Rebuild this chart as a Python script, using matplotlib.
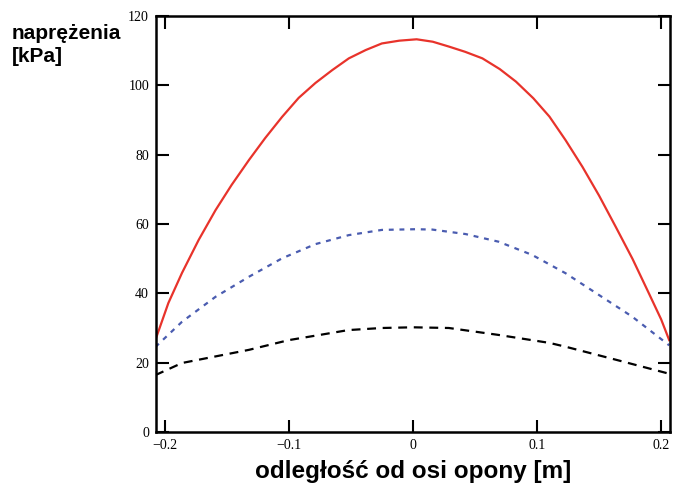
import matplotlib.pyplot as plt

# distance from tyre axis [m] and stresses [kPa]
x_red = [-0.2075, -0.197, -0.186, -0.1726, -0.159, -0.146, -0.132, -0.119,
         -0.1054, -0.092, -0.0785, -0.065, -0.0516, -0.038, -0.025, -0.011,
         0.003, 0.016, 0.029, 0.042, 0.056, 0.07, 0.083, 0.097, 0.11,
         0.123, 0.1366, 0.15, 0.1634, 0.177, 0.19, 0.2, 0.2065]
red = [26.5, 37.2, 45.9, 55.4, 64.0, 71.3, 78.5, 84.8,
       90.9, 96.4, 100.7, 104.4, 107.8, 110.2, 112.1, 112.9,
       113.3, 112.6, 111.2, 109.7, 107.8, 104.7, 101.1, 96.3, 91.0,
       84.2, 76.5, 68.2, 59.2, 49.9, 40.1, 32.5, 26.5]

x_blue = [-0.2075, -0.186, -0.159, -0.132, -0.1054, -0.0785, -0.0516, -0.025,
          0.002, 0.0156, 0.0425, 0.069, 0.096, 0.123, 0.15, 0.1766, 0.2065]
blue = [24.5, 31.8, 39.0, 44.8, 50.1, 54.2, 56.8, 58.3,
        58.5, 58.4, 57.1, 54.9, 51.1, 45.8, 39.5, 33.3, 25.0]

x_black = [-0.2075, -0.186, -0.159, -0.132, -0.1, -0.075, -0.052, -0.025,
           0.0, 0.029, 0.069, 0.11, 0.123, 0.164, 0.2065]
black = [16.4, 19.9, 21.8, 23.7, 26.5, 28.0, 29.4, 30.0,
         30.2, 30.0, 28.0, 25.7, 24.6, 20.8, 16.8]

xticks = [-0.2, -0.1, 0, 0.1, 0.2]
xtick_labels = ["\u22120.2", "\u22120.1", "0", "0.1", "0.2"]
yticks = [0, 20, 40, 60, 80, 100, 120]

fig = plt.figure(figsize=(6.87, 4.87), dpi=100)
ax = fig.add_axes([0.227, 0.113, 0.748, 0.854])

ax.plot(x_red, red, color="#e8332b", lw=1.6)
ax.plot(x_blue, blue, color="#4a5cb0", lw=1.6, dashes=(2.2, 2.6))
ax.plot(x_black, black, color="black", lw=1.6, dashes=(4, 3))

ax.set_xlim(-0.207, 0.207)
ax.set_ylim(0, 120)
ax.set_xticks(xticks)
ax.set_xticklabels(xtick_labels)
ax.set_yticks(yticks)
ax.tick_params(direction="in", length=9, width=1.5, top=True, right=True,
               labelsize=10, pad=5)
for lab in ax.get_xticklabels() + ax.get_yticklabels():
    lab.set_family("Liberation Serif")
for s in ax.spines.values():
    s.set_linewidth(1.8)

ax.set_xlabel("odległość od osi opony [m]", fontsize=17.5, fontweight="bold",
              family="Liberation Sans", labelpad=6)
fig.text(0.017, 0.908, "naprężenia\n[kPa]", fontsize=15, fontweight="bold",
         family="Liberation Sans", va="center", ha="left", linespacing=1.25)

fig.savefig("out.png", dpi=100)
